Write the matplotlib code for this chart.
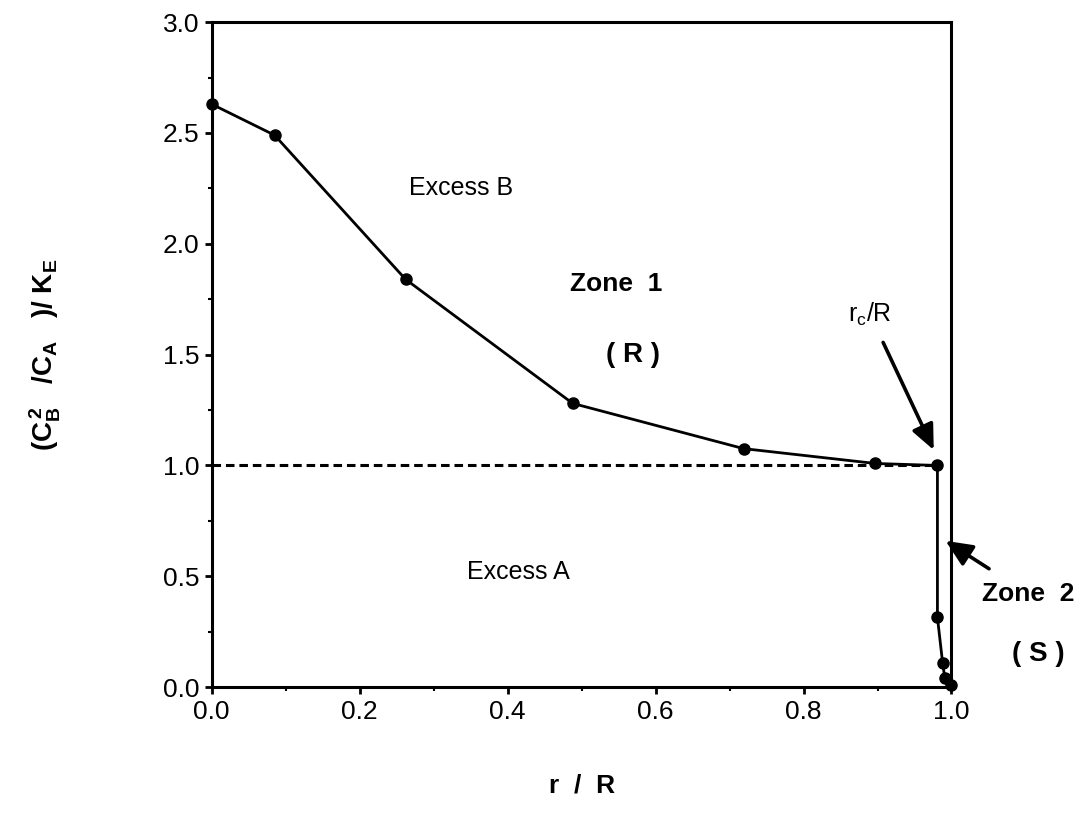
import matplotlib
matplotlib.use("Agg")
import matplotlib.pyplot as plt
from matplotlib.ticker import MultipleLocator

plt.rcParams['font.family'] = ['Liberation Sans', 'DejaVu Sans']
plt.rcParams['mathtext.fontset'] = 'custom'
plt.rcParams['mathtext.rm'] = 'Liberation Sans'
plt.rcParams['mathtext.it'] = 'Liberation Sans'
plt.rcParams['mathtext.bf'] = 'Liberation Sans:bold'

# concentration ratio profile along the radius
r_over_R = [0.0, 0.085, 0.262, 0.488, 0.719, 0.897, 0.981, 0.981, 0.988, 0.991, 1.0]
ratio = [2.63, 2.49, 1.84, 1.28, 1.076, 1.009, 1.0, 0.315, 0.11, 0.04, 0.01]

# reference line (ratio = 1) up to r_c/R
ref_x = [0.0, 0.981]
ref_y = [1.0, 1.0]

x_ticks = [0.0, 0.2, 0.4, 0.6, 0.8, 1.0]
y_ticks = [0.0, 0.5, 1.0, 1.5, 2.0, 2.5, 3.0]

fig = plt.figure(figsize=(10.8, 8.19), dpi=100)
ax = fig.add_axes([0.196, 0.161, 0.685, 0.812])

ax.plot(ref_x, ref_y, color='black', lw=2.2, ls=(0, (2.8, 1.6)))
ax.plot(r_over_R, ratio, color='black', lw=2.0, marker='o', ms=8, clip_on=False, zorder=3)

ax.set_xlim(0, 1.0)
ax.set_ylim(0, 3.0)
ax.set_xticks(x_ticks)
ax.set_yticks(y_ticks)
ax.set_xticklabels([f"{v:.1f}" for v in x_ticks])
ax.set_yticklabels([f"{v:.1f}" for v in y_ticks])
ax.xaxis.set_minor_locator(MultipleLocator(0.1))
ax.yaxis.set_minor_locator(MultipleLocator(0.25))
ax.tick_params(which='major', direction='out', length=5, width=2, labelsize=19, pad=4)
ax.tick_params(which='minor', direction='out', length=3, width=1.5)
for s in ax.spines.values():
    s.set_linewidth(2.2)

ax.set_xlabel('r  /  R', fontsize=19, fontweight='bold', labelpad=36)
ax.set_ylabel(r'$\mathbf{(C_B^{\,2}\ \ \ /C_A\ \ \ )/\ K_E}$', fontsize=20, labelpad=72)

ax.text(0.337, 2.25, 'Excess B', fontsize=18, ha='center', va='center')
ax.text(0.415, 0.52, 'Excess A', fontsize=18, ha='center', va='center')
ax.text(0.547, 1.82, 'Zone  1', fontsize=19, fontweight='bold', ha='center', va='center')
ax.text(0.570, 1.50, '( R )', fontsize=20, fontweight='bold', ha='center', va='center')

ax.annotate(r'$\mathrm{r_c/R}$', xy=(0.976, 1.07), xytext=(0.89, 1.68),
            fontsize=18, ha='center', va='center',
            arrowprops=dict(arrowstyle='-|>,head_length=0.85,head_width=0.38',
                            color='black', lw=2.6, shrinkA=9, shrinkB=0))
ax.annotate('Zone  2', xy=(0.992, 0.66), xytext=(1.104, 0.42),
            fontsize=19, fontweight='bold', ha='center', va='center',
            annotation_clip=False,
            arrowprops=dict(arrowstyle='-|>,head_length=0.85,head_width=0.38',
                            color='black', lw=2.6, shrinkA=14, shrinkB=0))
ax.text(1.118, 0.15, '( S )', fontsize=20, fontweight='bold', ha='center', va='center')

fig.savefig('out.png', dpi=100)
